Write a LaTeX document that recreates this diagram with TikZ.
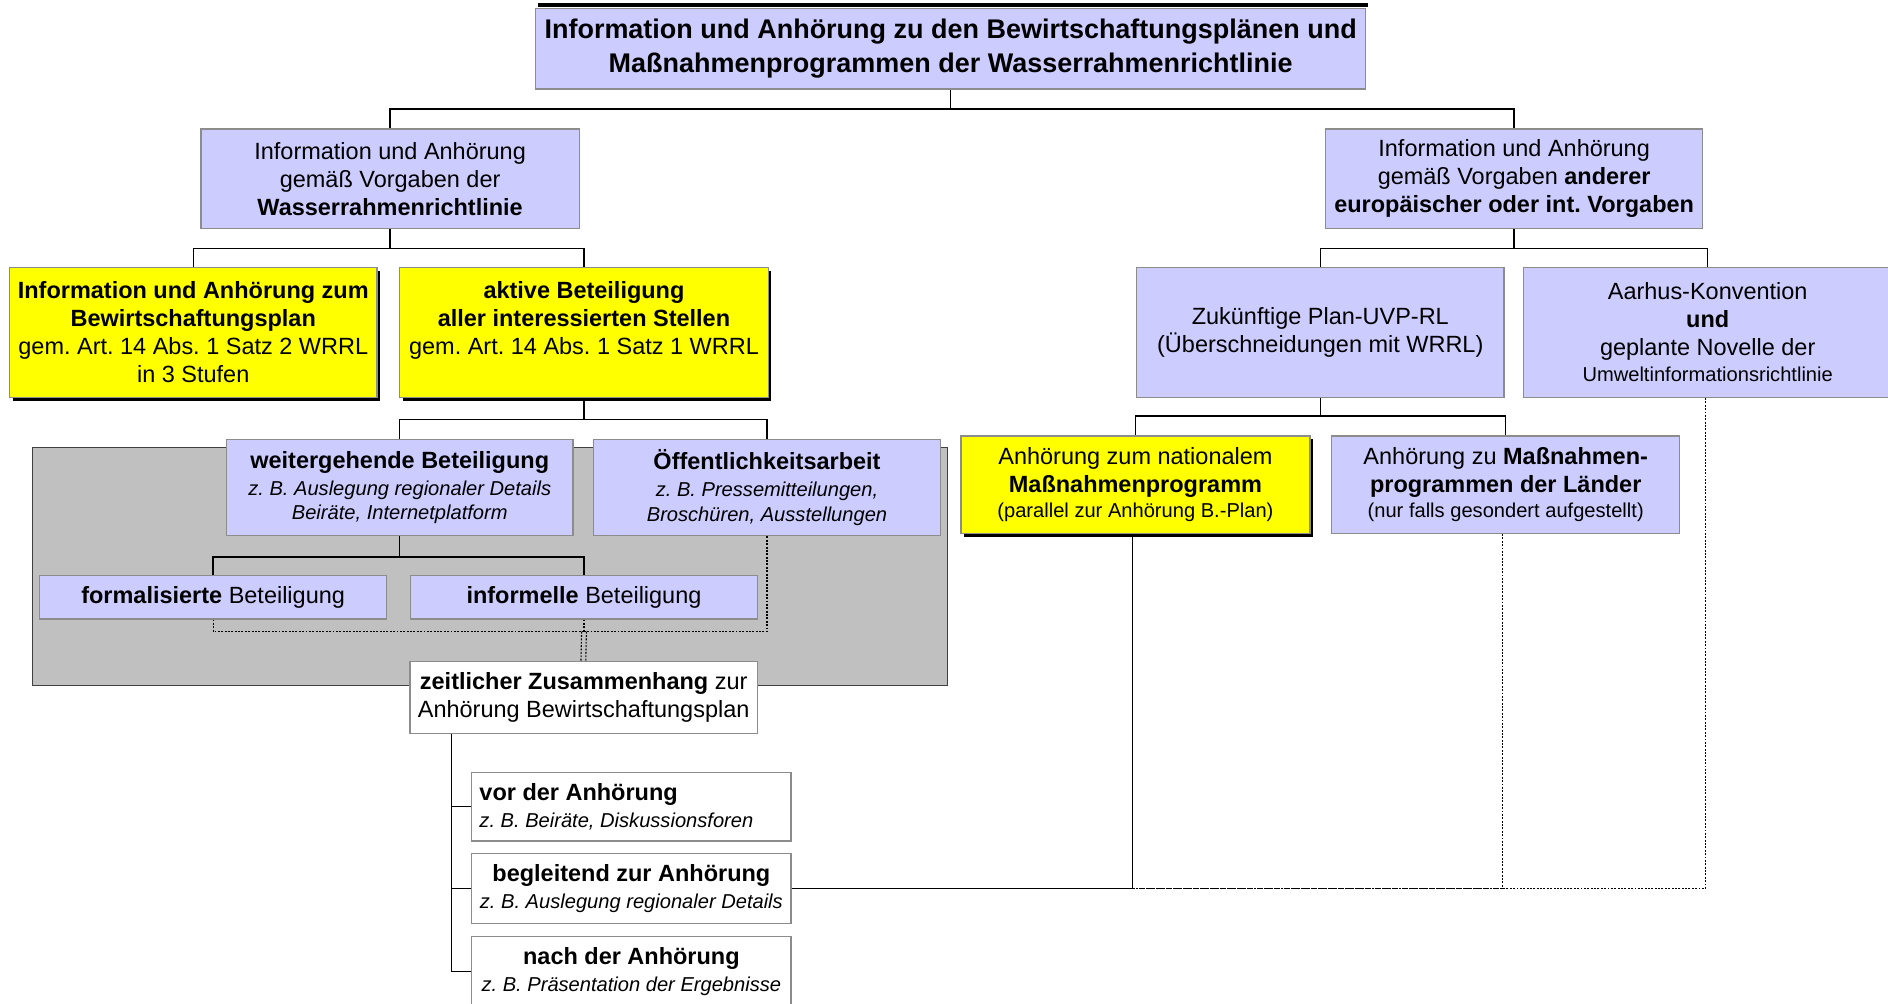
\documentclass[tikz,border=0pt]{standalone}
\usepackage{fontspec}
\setmainfont{Liberation Sans}
\usetikzlibrary{shadows}
\definecolor{lav}{HTML}{CCCCFF}
\definecolor{yel}{HTML}{FFFF00}
\definecolor{bgray}{HTML}{C0C0C0}
\definecolor{edge}{HTML}{8C8C8C}
\newcommand\myB{\fontsize{19.5}{23.3}\selectfont}
\newcommand\myS{\fontsize{16.7}{20.5}\selectfont}
\newcommand\myT{\fontsize{22.4}{28}\selectfont}
\frenchspacing
\begin{document}
\begin{tikzpicture}[x=1pt,y=-1pt,font=\myB,
  wh/.style 2 args={minimum width=#1pt, minimum height=#2pt},
  box/.style={draw=edge, line width=1.1pt, inner sep=0pt, align=center},
  lavbox/.style={box, fill=lav},
  yelbox/.style={box, fill=yel, drop shadow={shadow xshift=2.5pt, shadow yshift=-3pt, fill=black, opacity=1}},
  whitebox/.style={box, fill=white},
  grayarea/.style={draw=black!75, line width=0.9pt, fill=bgray, inner sep=0pt},
  conn/.style={draw=black, line width=1.1pt},
  dconn/.style={draw=black, line width=0.9pt, dash pattern=on 1.6pt off 1.2pt}]
\useasboundingbox (0,0) rectangle (1568,833);
\clip (0,0) rectangle (1568,833);

% grey background area
\node[grayarea, wh={760}{197.5}] (GRAY) at (407,470.75) {};

% boxes
\node[lavbox, wh={689}{67}, font=\myT\bfseries] (TOP) at (789.5,40.5)
  {Information und Anhörung zu den Bewirtschaftungsplänen und\\Maßnahmenprogrammen der Wasserrahmenrichtlinie};
\fill[black] ([shift={(2,-3.8)}]TOP.north west) rectangle ([shift={(1.2,-0.5)}]TOP.north east);
\node[lavbox, wh={314}{83}] (L2L) at (324,148.5)
  {Information und Anhörung\\gemäß Vorgaben der\\\textbf{Wasserrahmenrichtlinie}};
\node[lavbox, wh={313}{83}] (L2R) at (1257.5,148.5)
  {Information und Anhörung\\gemäß Vorgaben \textbf{anderer}\\\textbf{europäischer oder int. Vorgaben}};
\node[yelbox, wh={305}{108}] (Y1) at (160.5,276)
  {\textbf{Information und Anhörung zum}\\\textbf{Bewirtschaftungsplan}\\gem. Art. 14 Abs. 1 Satz 2 WRRL\\in 3 Stufen};
\node[yelbox, wh={306}{108}] (Y2) at (485,276)
  {\textbf{aktive Beteiligung}\\\textbf{aller interessierten Stellen}\\gem. Art. 14 Abs. 1 Satz 1 WRRL\\\mbox{}};
\node[lavbox, wh={305}{108}] (ZUK) at (1096.5,276)
  {Zukünftige Plan-UVP-RL\\(Überschneidungen mit WRRL)};
\node[lavbox, wh={305.5}{108}] (AAR) at (1418.25,276)
  {Aarhus-Konvention\\\textbf{und}\\geplante Novelle der\\[-2pt]{\myS Umweltinformationsrichtlinie}};
\node[lavbox, wh={288}{80}] (WEIT) at (332,405)
  {\textbf{weitergehende Beteiligung}\\[-1pt]{\myS\itshape z. B. Auslegung regionaler Details}\\[-3pt]{\myS\itshape Beiräte, Internetplatform}};
\node[lavbox, wh={288}{80}] (OEFF) at (637,405)
  {\textbf{Öffentlichkeitsarbeit}\\[-1pt]{\myS\itshape z. B. Pressemitteilungen,}\\[-3pt]{\myS\itshape Broschüren, Ausstellungen}};
\node[lavbox, wh={288}{36}] (FORM) at (177,496) {\textbf{formalisierte} Beteiligung};
\node[lavbox, wh={288}{36}] (INFO) at (485,496) {\textbf{informelle} Beteiligung};
\node[yelbox, wh={290}{81}] (Y3) at (943,402.5)
  {Anhörung zum nationalem\\\textbf{Maßnahmenprogramm}\\[-2pt]{\myS (parallel zur Anhörung B.-Plan)}};
\node[lavbox, wh={289}{81}] (LAND) at (1250.5,402.5)
  {Anhörung zu \textbf{Maßnahmen-}\\\textbf{programmen der Länder}\\[-2pt]{\myS (nur falls gesondert aufgestellt)}};
\node[whitebox, wh={288.5}{59.5}] (ZEIT) at (484.75,579.25)
  {\textbf{zeitlicher Zusammenhang} zur\\Anhörung Bewirtschaftungsplan};
\node[whitebox, wh={265.3}{57}, align=flush left, text width=252.3pt, inner xsep=6.5pt] (VOR) at (524.35,670)
  {\textbf{vor der Anhörung}\\[-1pt]{\myS\itshape z. B. Beiräte, Diskussionsforen}};
\node[whitebox, wh={265.3}{57.7}] (BEG) at (524.35,737.85)
  {\textbf{begleitend zur Anhörung}\\[-1pt]{\myS\itshape z. B. Auslegung regionaler Details}};
\node[whitebox, wh={265.3}{57.5}] (NACH) at (524.35,806.75)
  {\textbf{nach der Anhörung}\\[-1pt]{\myS\itshape z. B. Präsentation der Ergebnisse}};

% solid tree connectors
\draw[conn] (TOP.south) -- ++(0,16) -| (L2L.north);
\draw[conn] (TOP.south) -- ++(0,16) -| (L2R.north);
\draw[conn] (L2L.south) -- ++(0,16) -| (Y1.north);
\draw[conn] (L2L.south) -- ++(0,16) -| (Y2.north);
\draw[conn] (L2R.south) -- ++(0,16) -| (ZUK.north);
\draw[conn] (L2R.south) -- ++(0,16) -| (AAR.north);
\draw[conn] (Y2.south) -- ++(0,18) -| (WEIT.north);
\draw[conn] (Y2.south) -- ++(0,18) -| (OEFF.north);
\draw[conn] (ZUK.south) -- ++(0,15) -| (Y3.north);
\draw[conn] (ZUK.south) -- ++(0,15) -| (LAND.north);
\draw[conn] (WEIT.south) -- ++(0,17) -| (FORM.north);
\draw[conn] (WEIT.south) -- ++(0,17) -| (INFO.north);

% dashed joins to the time box
\coordinate (J) at (485,524.6);
\draw[dconn] (FORM.south) |- (J);
\draw[dconn] (INFO.south) -- (J);
\draw[dconn] (OEFF.south) |- (J);
\draw[dconn] ([xshift=-2pt]J) -- ([xshift=-2.25pt]ZEIT.north);
\draw[dconn] ([xshift=2pt]J) -- ([xshift=1.75pt]ZEIT.north);

% time branches
\coordinate (ZT) at ([xshift=35.2pt]ZEIT.south west);
\draw[conn] (ZT) |- (VOR.west);
\draw[conn] (ZT) |- (BEG.west);
\draw[conn] (ZT) |- (NACH.west);

% links from the right side to "begleitend"
\draw[conn] ([xshift=-2.6pt]Y3.south) |- (BEG.east);
\draw[dconn] ([xshift=-2.9pt]LAND.south) |- (BEG.east);
\draw[dconn] ([xshift=-1.7pt]AAR.south) |- (BEG.east);
\end{tikzpicture}
\end{document}
